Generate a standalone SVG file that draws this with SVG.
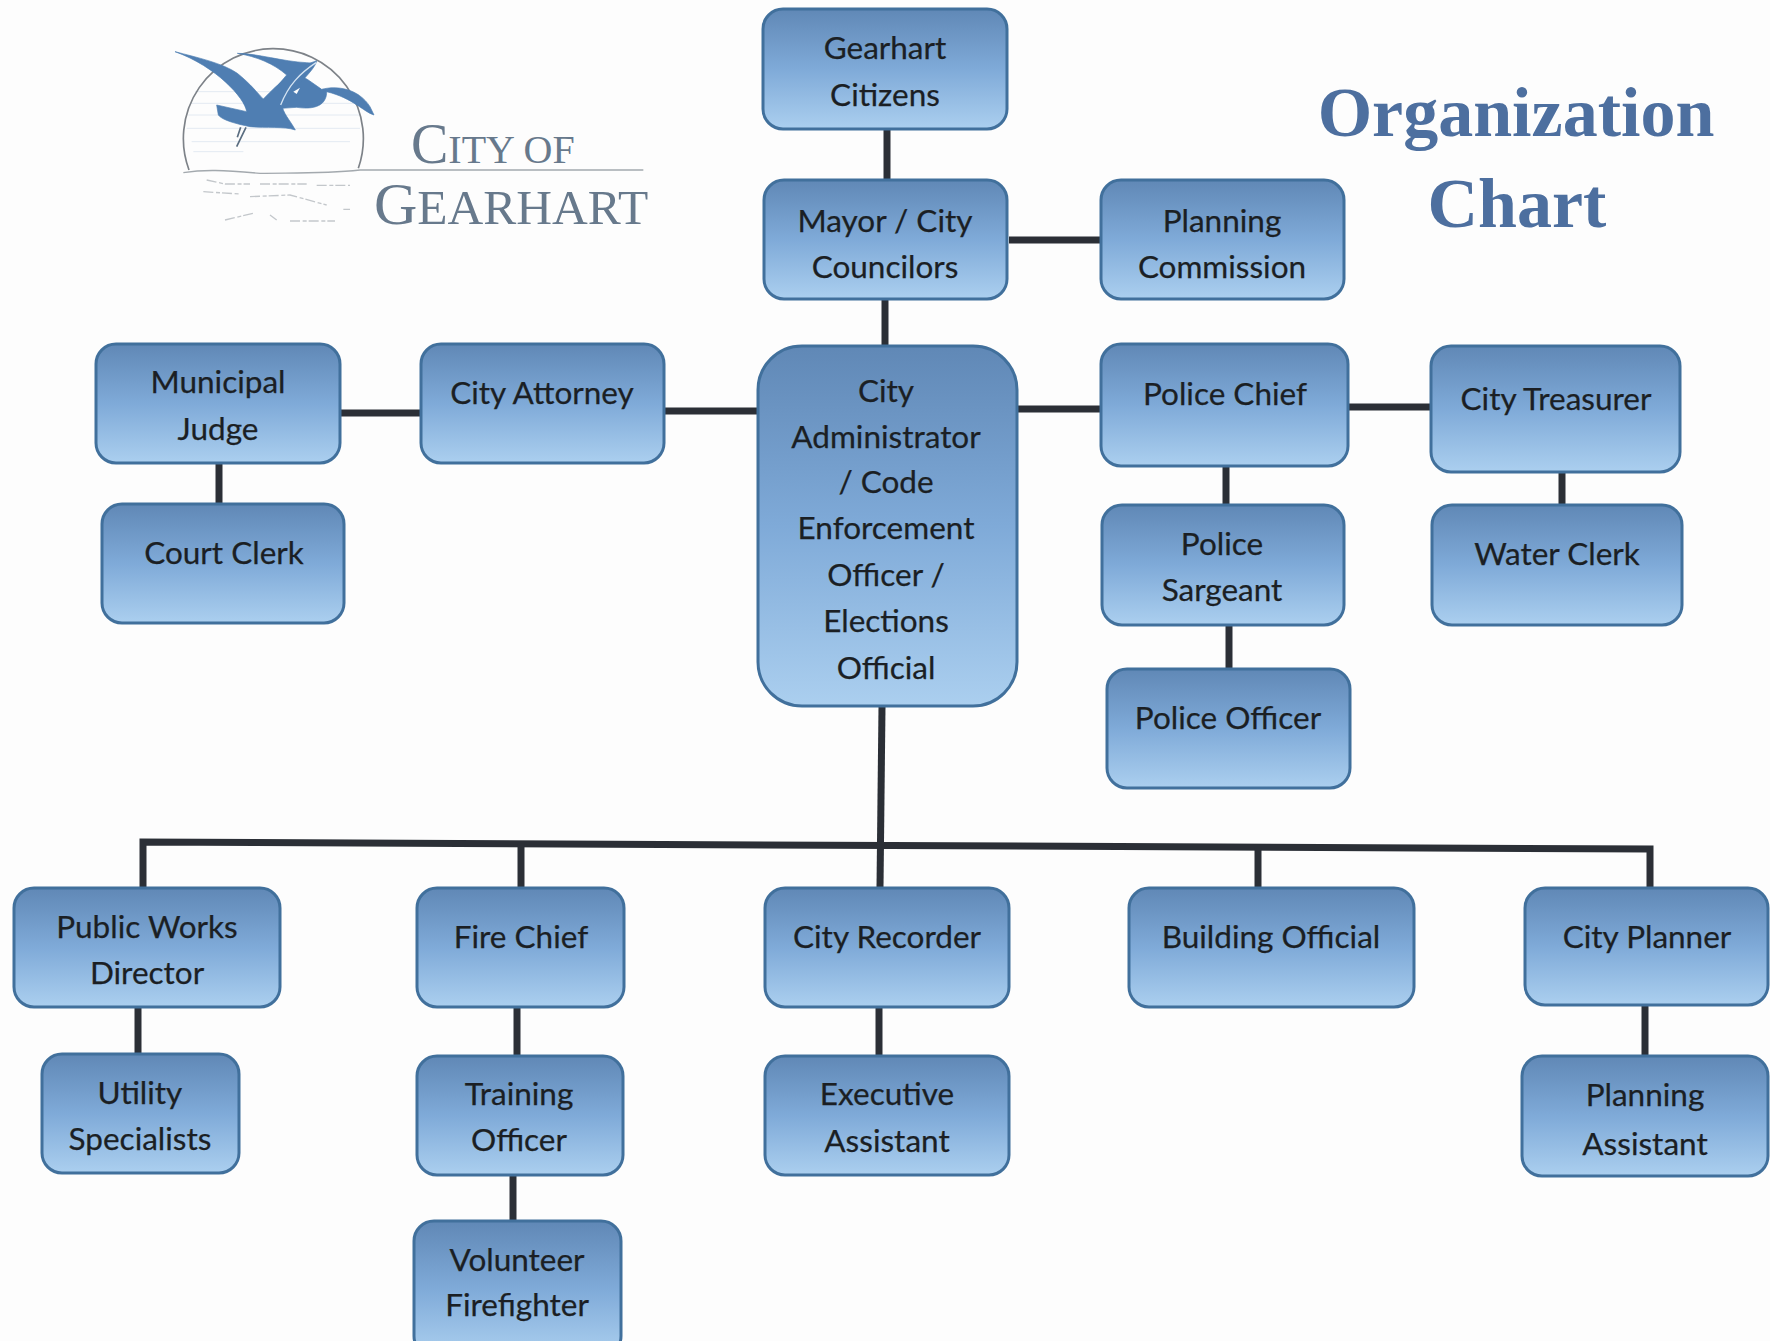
<svg xmlns="http://www.w3.org/2000/svg" width="1770" height="1341" viewBox="0 0 1770 1341">
<style>
.n rect{fill:url(#g);stroke:#41709c;stroke-width:3}
.n text{font-family:"Lato","Open Sans",sans-serif;font-size:31.5px;fill:#1b1f24;text-anchor:middle;stroke:#1b1f24;stroke-width:.25}
#connectors path{fill:none;stroke:#2b2f36;stroke-width:7}
.title{font-family:"Liberation Serif",serif;font-weight:bold;font-size:70px;fill:#4d6f9f;text-anchor:middle}
.logo{font-family:"Liberation Serif",serif;fill:#67798c}
.bird{fill:#4f7eb2;stroke:#4f7eb2;stroke-width:2;stroke-linejoin:round}
</style>
<defs>
<linearGradient id="g" x1="0" y1="0" x2="0" y2="1">
<stop offset="0" stop-color="#6088b6"/><stop offset=".5" stop-color="#7faad8"/><stop offset="1" stop-color="#abcfef"/>
</linearGradient>
</defs>
<rect width="1770" height="1341" fill="#fdfdfd"/>
<g id="logo">
<g transform="translate(150 20) scale(.33333)">
<g fill="none" stroke="#e3eaf2" stroke-width="3">
<path d="M135 215H560M120 250H620M115 285H630M110 325H630M125 365H600M130 395H280"/>
</g>
<path d="M117 450A270 270 0 1 1 625 445" fill="none" stroke="#7d8288" stroke-width="5"/>
<path d="M100 458C160 448 220 450 330 460C420 458 520 462 630 450H1480" fill="none" stroke="#a3a9ae" stroke-width="4"/>
<path d="M170 480L225 492H300M330 492H470M500 496H600M160 515L270 522M300 530L420 525L530 555M580 568H600M225 600L310 580M360 585L380 600M420 603H555" fill="none" stroke="#c3c7cb" stroke-width="4" stroke-dasharray="30 8 12 6"/>
<path class="bird" d="M262 100C320 100 400 125 470 128L490 130L450 165L475 180L515 208C560 196 625 205 660 260L672 285C640 275 610 235 530 215C530 245 510 272 440 262L395 265L380 200L410 165C370 130 320 110 262 100Z"/>
<path class="bird" d="M75 95C140 112 220 130 262 160C300 190 325 222 340 237C385 190 440 140 500 122C495 150 440 195 395 250C398 280 420 300 436 330C400 318 350 325 300 320C260 312 215 300 205 285L200 255L290 275C285 235 200 140 75 95Z"/>
<path d="M392 255C415 195 450 160 498 128" fill="none" stroke="#d5e4f2" stroke-width="4"/>
<path d="M430 215L450 203L440 222Z" fill="#fdfdfd"/>
<path d="M272 322L262 352M288 322L260 380" fill="none" stroke="#5a6d80" stroke-width="5"/>
</g>
<text class="logo" x="411" y="163" font-size="40"><tspan font-size="56">C</tspan>ITY OF</text>
<text class="logo" x="374" y="224" font-size="49.5"><tspan font-size="60">G</tspan>EARHART</text>
</g>
<text class="title" x="1516" y="136">Organization</text>
<text class="title" x="1517" y="227">Chart</text>
<g id="connectors">
<path d="M887 129V179"/>
<path d="M1009 240H1101"/>
<path d="M885 300V346"/>
<path d="M340 413H421"/>
<path d="M664 411H757"/>
<path d="M1017 409H1101"/>
<path d="M1348 407H1430"/>
<path d="M219 463V503"/>
<path d="M1226 466V505"/>
<path d="M1562 472V505"/>
<path d="M1229 625V668"/>
<path d="M882 707L880 887"/>
<path d="M143 887V842L1650 849V887"/>
<path d="M521 843V887"/>
<path d="M1258 847V887"/>
<path d="M138 1007V1053"/>
<path d="M517 1007V1055"/>
<path d="M513 1175V1220"/>
<path d="M879 1007V1055"/>
<path d="M1645 1005V1055"/>
</g>
<g id="gearhart-citizens" class="n"><rect x="763" y="9" width="244" height="120" rx="20"/><text x="885" y="59">Gearhart</text><text x="885" y="106">Citizens</text></g>
<g id="mayor" class="n"><rect x="764" y="180" width="243" height="119" rx="20"/><text x="885" y="232">Mayor / City</text><text x="885" y="278">Councilors</text></g>
<g id="planning-commission" class="n"><rect x="1101" y="180" width="243" height="119" rx="20"/><text x="1222" y="232">Planning</text><text x="1222" y="278">Commission</text></g>
<g id="municipal-judge" class="n"><rect x="96" y="344" width="244" height="119" rx="20"/><text x="218" y="393">Municipal</text><text x="218" y="440">Judge</text></g>
<g id="city-attorney" class="n"><rect x="421" y="344" width="243" height="119" rx="20"/><text x="542" y="404">City Attorney</text></g>
<g id="city-administrator" class="n"><rect x="758" y="346" width="259" height="360" rx="44"/><text x="886" y="402">City</text><text x="886" y="448">Administrator</text><text x="886" y="493">/ Code</text><text x="886" y="539">Enforcement</text><text x="886" y="586">Officer /</text><text x="886" y="632">Elections</text><text x="886" y="679">Official</text></g>
<g id="police-chief" class="n"><rect x="1101" y="344" width="247" height="122" rx="20"/><text x="1225" y="405">Police Chief</text></g>
<g id="city-treasurer" class="n"><rect x="1431" y="346" width="249" height="126" rx="20"/><text x="1556" y="410">City Treasurer</text></g>
<g id="court-clerk" class="n"><rect x="102" y="504" width="242" height="119" rx="20"/><text x="224" y="564">Court Clerk</text></g>
<g id="police-sargeant" class="n"><rect x="1102" y="505" width="242" height="120" rx="20"/><text x="1222" y="555">Police</text><text x="1222" y="601">Sargeant</text></g>
<g id="water-clerk" class="n"><rect x="1432" y="505" width="250" height="120" rx="20"/><text x="1557" y="565">Water Clerk</text></g>
<g id="police-officer" class="n"><rect x="1107" y="669" width="243" height="119" rx="20"/><text x="1228" y="729">Police Officer</text></g>
<g id="public-works" class="n"><rect x="14" y="888" width="266" height="119" rx="20"/><text x="147" y="938">Public Works</text><text x="147" y="984">Director</text></g>
<g id="fire-chief" class="n"><rect x="417" y="888" width="207" height="119" rx="20"/><text x="521" y="948">Fire Chief</text></g>
<g id="city-recorder" class="n"><rect x="765" y="888" width="244" height="119" rx="20"/><text x="887" y="948">City Recorder</text></g>
<g id="building-official" class="n"><rect x="1129" y="888" width="285" height="119" rx="20"/><text x="1271" y="948">Building Official</text></g>
<g id="city-planner" class="n"><rect x="1525" y="888" width="243" height="117" rx="20"/><text x="1647" y="948">City Planner</text></g>
<g id="utility-specialists" class="n"><rect x="42" y="1054" width="197" height="119" rx="20"/><text x="140" y="1104">Utility</text><text x="140" y="1150">Specialists</text></g>
<g id="training-officer" class="n"><rect x="417" y="1056" width="206" height="119" rx="20"/><text x="519" y="1105">Training</text><text x="519" y="1151">Officer</text></g>
<g id="executive-assistant" class="n"><rect x="765" y="1056" width="244" height="119" rx="20"/><text x="887" y="1105">Executive</text><text x="887" y="1152">Assistant</text></g>
<g id="planning-assistant" class="n"><rect x="1522" y="1056" width="246" height="120" rx="20"/><text x="1645" y="1106">Planning</text><text x="1645" y="1155">Assistant</text></g>
<g id="volunteer-firefighter" class="n"><rect x="414" y="1221" width="207" height="135" rx="20"/><text x="517" y="1271">Volunteer</text><text x="517" y="1316">Firefighter</text></g>
</svg>
